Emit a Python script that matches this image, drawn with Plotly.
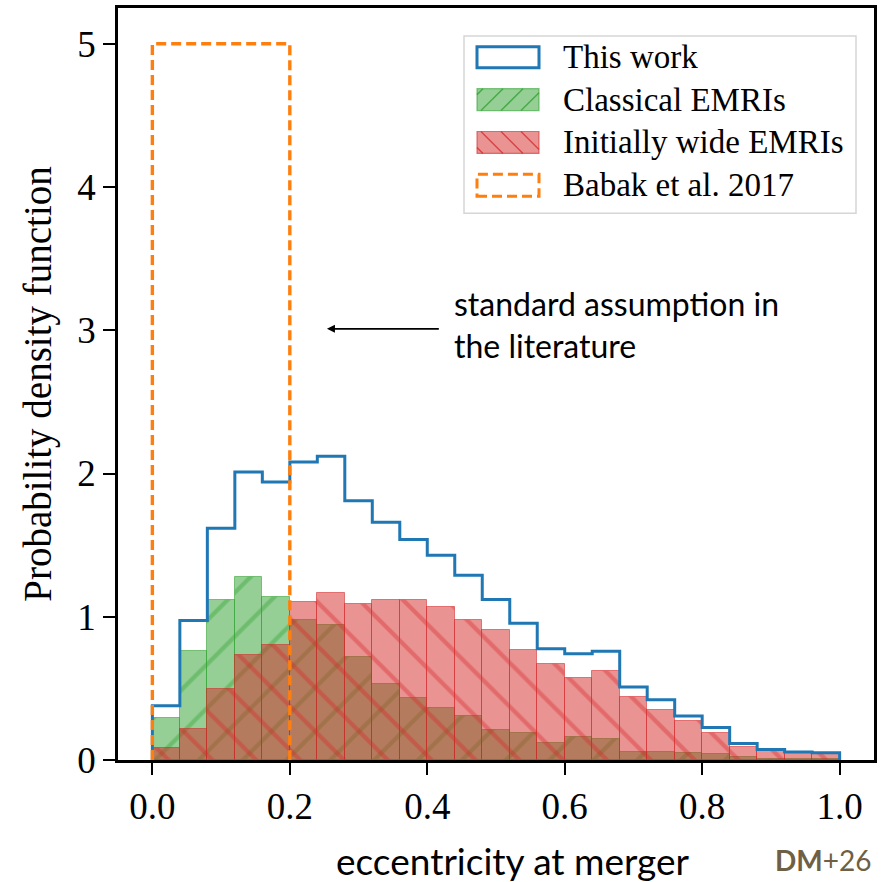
import numpy as np
import plotly.graph_objects as go

# ---------------- data ----------------
bin_width = 0.04
n_bins = 25
this_work = [0.378, 0.974, 1.618, 2.01, 1.94, 2.08, 2.12, 1.81, 1.66, 1.54,
             1.43, 1.29, 1.12, 0.955, 0.777, 0.742, 0.76, 0.51, 0.42, 0.308,
             0.227, 0.116, 0.074, 0.056, 0.051]
classical = [0.294, 0.758, 1.12, 1.275, 1.14, 0.98, 0.944, 0.72, 0.533, 0.43,
             0.36, 0.306, 0.209, 0.192, 0.116, 0.162, 0.144, 0.058, 0.058, 0.046,
             0.04, 0.02, 0.01, 0.006, 0.01]
wide = [0.081, 0.213, 0.499, 0.73, 0.805, 1.10, 1.166, 1.09, 1.12, 1.12,
        1.07, 0.978, 0.909, 0.765, 0.667, 0.57, 0.619, 0.44, 0.352, 0.27,
        0.186, 0.093, 0.065, 0.05, 0.04]
babak_edges = [0.0, 0.2]
babak_density = 5.0

xtick_vals = [0.0, 0.2, 0.4, 0.6, 0.8, 1.0]
xtick_text = ["0.0", "0.2", "0.4", "0.6", "0.8", "1.0"]
ytick_vals = [0, 1, 2, 3, 4, 5]
ytick_text = ["0", "1", "2", "3", "4", "5"]

legend_labels = ["This work", "Classical EMRIs", "Initially wide EMRIs", "Babak et al. 2017"]

# ---------------- styling ----------------
BLUE = "#1f77b4"
GREEN = "44,160,44"
RED = "214,39,40"
ORANGE = "#ff7f0e"
SERIF = "Liberation Serif"
SANS = "Lato"

edges = np.round(np.arange(n_bins + 1) * bin_width, 6)
centers = edges[:-1] + bin_width / 2

fig = go.Figure()

fig.add_trace(go.Bar(
    x=centers, y=classical, width=bin_width, name=legend_labels[1],
    marker=dict(color=f"rgba({GREEN},0.5)",
                line=dict(color=f"rgba({GREEN},0.55)", width=1),
                pattern=dict(shape="/", fgcolor=f"rgba({GREEN},0.75)", size=31,
                             solidity=0.14, fillmode="overlay")),
    showlegend=False))

fig.add_trace(go.Bar(
    x=centers, y=wide, width=bin_width, name=legend_labels[2],
    marker=dict(color=f"rgba({RED},0.5)",
                line=dict(color=f"rgba({RED},0.55)", width=1),
                pattern=dict(shape="\\", fgcolor=f"rgba({RED},0.75)", size=31,
                             solidity=0.14, fillmode="overlay")),
    showlegend=False))

fig.add_trace(go.Scatter(
    x=[edges[0]] + list(edges), y=[0] + this_work + [0],
    mode="lines", line=dict(color=BLUE, width=3, shape="hv"),
    name=legend_labels[0], showlegend=False))

e0, e1 = babak_edges
fig.add_trace(go.Scatter(
    x=[e0, e0, e1, e1], y=[0, babak_density, babak_density, 0],
    mode="lines", line=dict(color=ORANGE, width=3.4, dash="10px,5px"),
    name=legend_labels[3], showlegend=False))

# ---------------- layout ----------------
L, R, T, B = 118, 874, 5, 760
W, H = 887, 882


def px(xp):
    return (xp - L) / (R - L)


def py(yp):
    return (B - yp) / (B - T)


shapes = []
annotations = []

# custom legend
shapes.append(dict(type="rect", xref="paper", yref="paper",
                   x0=px(464), x1=px(856), y0=py(211), y1=py(33),
                   line=dict(color="#d6d6d6", width=1.5),
                   fillcolor="rgba(255,255,255,0.8)", layer="above"))
rows = [(44, 65), (86, 108), (129, 151), (172, 194)]
pxl, pxr = 477, 539


def hatch(y_top, y_bot, direction, color, spacing=20):
    segs = []
    h = y_bot - y_top
    start = pxl - h
    xs = np.arange(start + 6, pxr, spacing)
    for xb in xs:
        t0 = max(0, pxl - xb)
        t1 = min(h, pxr - xb)
        if t1 <= t0:
            continue
        if direction == "/":
            xa, ya = xb + t0, y_bot - t0
            xb2, yb2 = xb + t1, y_bot - t1
        else:
            xa, ya = xb + t0, y_top + t0
            xb2, yb2 = xb + t1, y_top + t1
        segs.append(dict(type="line", xref="paper", yref="paper",
                         x0=px(xa), y0=py(ya), x1=px(xb2), y1=py(yb2),
                         line=dict(color=color, width=1.5), layer="above"))
    return segs


(a0, a1), (b0, b1), (c0, c1), (d0, d1) = rows
shapes.append(dict(type="rect", xref="paper", yref="paper",
                   x0=px(pxl), x1=px(pxr), y0=py(a1), y1=py(a0),
                   line=dict(color=BLUE, width=3), fillcolor="rgba(0,0,0,0)", layer="above"))
shapes.append(dict(type="rect", xref="paper", yref="paper",
                   x0=px(pxl), x1=px(pxr), y0=py(b1), y1=py(b0),
                   line=dict(color=f"rgba({GREEN},0.6)", width=1.2),
                   fillcolor=f"rgba({GREEN},0.5)", layer="above"))
shapes += hatch(b0, b1, "/", f"rgba({GREEN},0.75)")
shapes.append(dict(type="rect", xref="paper", yref="paper",
                   x0=px(pxl), x1=px(pxr), y0=py(c1), y1=py(c0),
                   line=dict(color=f"rgba({RED},0.6)", width=1.2),
                   fillcolor=f"rgba({RED},0.5)", layer="above"))
shapes += hatch(c0, c1, "\\", f"rgba({RED},0.75)")
shapes.append(dict(type="rect", xref="paper", yref="paper",
                   x0=px(pxl), x1=px(pxr), y0=py(d1), y1=py(d0),
                   line=dict(color=ORANGE, width=3, dash="10px,5px"),
                   fillcolor="rgba(0,0,0,0)", layer="above"))

for (r0, r1), lab in zip(rows, legend_labels):
    annotations.append(dict(xref="paper", yref="paper", x=px(561), y=py((r0 + r1) / 2),
                            text=lab, showarrow=False, xanchor="left", yanchor="middle",
                            font=dict(family=SERIF, size=33, color="black")))

# arrow + note
annotations.append(dict(xref="x", yref="y", x=0.254, y=3.01, ax=0.419, ay=3.01,
                        axref="x", ayref="y", text="", showarrow=True,
                        arrowhead=2, arrowsize=1, arrowwidth=1.6, arrowcolor="black"))
annotations.append(dict(xref="paper", yref="paper", x=px(452), y=py(323),
                        text="standard assumption in<br>the literature", showarrow=False,
                        xanchor="left", yanchor="middle", align="left",
                        font=dict(family=SANS, size=32, color="black")))

# x-axis title and credit
annotations.append(dict(xref="paper", yref="paper", x=px(513), y=py(861),
                        text="eccentricity at merger", showarrow=False,
                        xanchor="center", yanchor="middle",
                        font=dict(family=SANS, size=37, color="black")))
annotations.append(dict(xref="paper", yref="paper", x=px(874), y=py(860),
                        text="<b>DM</b>+26", showarrow=False,
                        xanchor="right", yanchor="middle",
                        font=dict(family=SANS, size=28, color="#6e5f45")))

axis_common = dict(showgrid=False, zeroline=False, showline=True, linecolor="black",
                   linewidth=2.5, mirror=True, ticks="outside", ticklen=12,
                   tickwidth=2, tickcolor="black",
                   tickfont=dict(family=SERIF, size=37, color="black"))

fig.update_layout(
    width=W, height=H,
    margin=dict(l=L, r=W - R, t=T, b=H - B),
    paper_bgcolor="white", plot_bgcolor="white",
    barmode="overlay", bargap=0, showlegend=False,
    xaxis=dict(range=[-0.05, 1.05], tickvals=xtick_vals, ticktext=xtick_text, **axis_common),
    yaxis=dict(range=[0, 5.25], tickvals=ytick_vals, ticktext=ytick_text,
               title=dict(text="Probability density function",
                          font=dict(family=SERIF, size=39, color="black"), standoff=14),
               **axis_common),
    shapes=shapes, annotations=annotations,
)

fig.write_html("out.html")
